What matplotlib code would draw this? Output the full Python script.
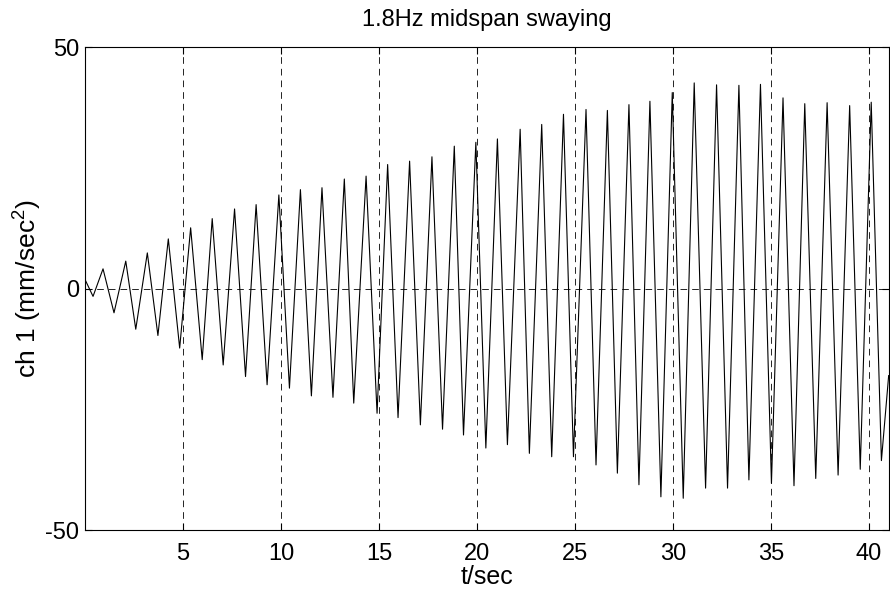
import matplotlib
matplotlib.use("Agg")
import matplotlib.pyplot as plt

plt.rcParams['font.family'] = ['Liberation Sans', 'DejaVu Sans']
plt.rcParams['mathtext.fontset'] = 'custom'
plt.rcParams['mathtext.rm'] = 'Liberation Sans'
plt.rcParams['axes.unicode_minus'] = False

# 讀圖取得的峰值/谷值 (時間, 加速度)
t_sec = [0.00, 0.41, 0.92, 1.48, 2.08, 2.59, 3.18, 3.72, 4.25, 4.83, 5.39, 5.98, 6.49,
         7.05, 7.63, 8.19, 8.73, 9.29, 9.89, 10.43, 10.99, 11.55, 12.09, 12.65, 13.23,
         13.71, 14.34, 14.90, 15.44, 15.97, 16.56, 17.11, 17.70, 18.24, 18.84, 19.31, 19.94,
         20.45, 21.04, 21.55, 22.20, 22.67, 23.30, 23.81, 24.41, 24.92, 25.56, 26.07, 26.65,
         27.16, 27.75, 28.26, 28.82, 29.38, 29.96, 30.52, 31.08, 31.66, 32.22, 32.78, 33.36,
         33.87, 34.46, 35.02, 35.61, 36.17, 36.72, 37.28, 37.86, 38.42, 39.01, 39.55, 40.11,
         40.63, 41.00]
ch1 = [1.9, -1.6, 4.1, -5.0, 5.7, -8.4, 7.4, -9.7, 10.3, -12.3, 12.6, -14.7, 14.5,
       -15.8, 16.5, -18.2, 17.4, -19.9, 19.4, -20.6, 20.5, -22.2, 20.9, -22.5, 22.7,
       -23.7, 23.3, -25.8, 25.7, -26.7, 26.4, -28.2, 27.3, -29.1, 29.5, -30.3, 30.3,
       -33.0, 31.0, -32.3, 33.0, -34.1, 34.0, -34.8, 36.1, -34.8, 37.1, -36.5, 36.9,
       -38.2, 38.1, -40.6, 38.8, -43.1, 40.6, -43.4, 42.6, -41.3, 42.2, -41.3, 42.1,
       -39.6, 42.3, -40.3, 39.5, -40.8, 38.3, -39.3, 38.5, -38.6, 37.9, -37.4, 38.6,
       -35.6, -18.0]

xticks = [5, 10, 15, 20, 25, 30, 35, 40]
yticks = [-50, 0, 50]

fig = plt.figure(figsize=(8.9, 5.97), dpi=100)
ax = fig.add_axes([0.0955, 0.112, 0.903, 0.809])

ax.plot(t_sec, ch1, color='black', lw=0.8)

ax.set_xlim(0, 41)
ax.set_ylim(-50, 50)
ax.set_xticks(xticks)
ax.set_yticks(yticks)
ax.tick_params(direction='in', labelsize=17, length=5, top=True, right=True)
ax.tick_params(axis='x', pad=9)
ax.tick_params(axis='y', pad=4)

# 網格 (虛線)
ax.grid(True, color='black', linestyle=(0, (8, 6)), linewidth=0.6)

ax.set_title('1.8Hz midspan swaying', fontsize=17, pad=15)
ax.set_xlabel('t/sec', fontsize=18, labelpad=0)
ax.set_ylabel('ch 1 (mm/sec$^2$)', fontsize=19, labelpad=2)

fig.savefig('out.png', dpi=100)
